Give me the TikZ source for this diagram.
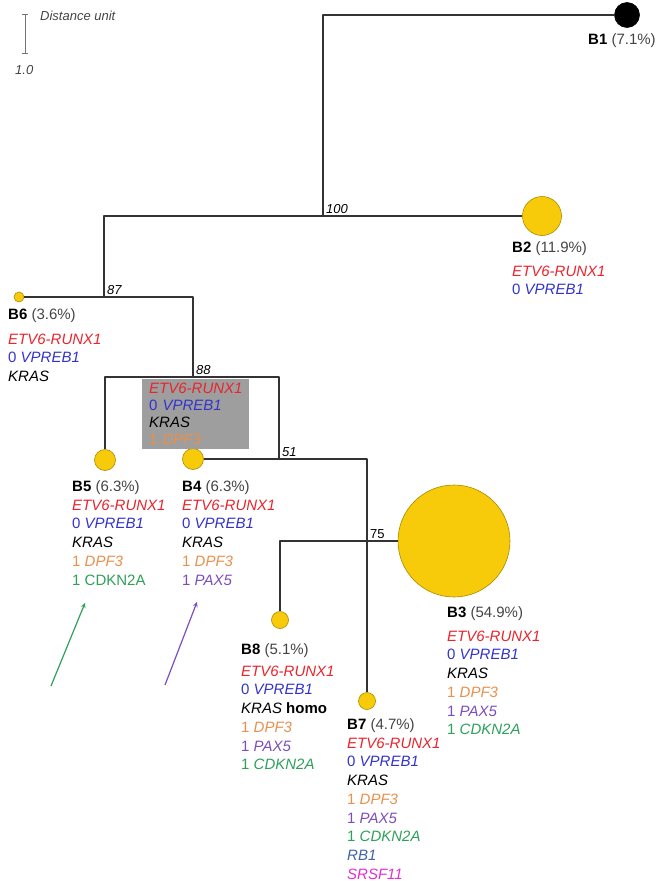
\documentclass[tikz,border=0pt]{standalone}
\usepackage{fontspec}
\setmainfont{Liberation Sans}
\definecolor{treegray}{HTML}{333333}
\definecolor{hdrgray}{HTML}{444444}
\definecolor{cloneyellow}{HTML}{F7CB0A}
\definecolor{cloneedge}{HTML}{A88A00}
\definecolor{boxgray}{HTML}{9E9E9E}
\definecolor{etvred}{HTML}{E8242C}
\definecolor{vprblue}{HTML}{3333CC}
\definecolor{dpforange}{HTML}{E8904E}
\definecolor{paxpurple}{HTML}{7C4DBD}
\definecolor{cdkgreen}{HTML}{2EA05A}
\definecolor{rbblue}{HTML}{3F62A8}
\definecolor{srsfmag}{HTML}{E030D0}
% gene lines
\newcommand{\etv}{\mbox{\textcolor{etvred}{\textit{ETV6-RUNX1}}}}
\newcommand{\vpr}{\textcolor{vprblue}{0 \textit{VPREB1}}}
\newcommand{\kras}{\textit{KRAS}}
\newcommand{\dpf}{\textcolor{dpforange}{1 \textit{DPF3}}}
\newcommand{\pax}{\textcolor{paxpurple}{1 \textit{PAX5}}}
\newcommand{\cdk}{\textcolor{cdkgreen}{1 \textit{CDKN2A}}}
\newcommand{\hdr}[2]{\textbf{#1} \textcolor{hdrgray}{(#2)}}
\tikzset{
  branch/.style={draw=treegray, line width=2pt},
  clone/.style={circle, draw=cloneedge, fill=cloneyellow, line width=0.6pt, inner sep=0pt, minimum size=#1},
  info/.style={anchor=north west, align=left, inner sep=0pt, font=\fontsize{15}{18.7}\selectfont},
  boot/.style={anchor=south west, inner sep=1pt, xshift=2pt, yshift=1.5pt, font=\fontsize{13}{13}\selectfont\itshape},
}
\begin{document}
\begin{tikzpicture}[x=1pt, y=-1pt, >=stealth, line join=round]
	\useasboundingbox (0,0) rectangle (658,881);
	
	% scale bar
	\draw[gray!90!black, line width=1pt] (22,14)--(28,14) (25,14)--(25,53) (22,53)--(28,53);
	\node[anchor=west, inner sep=0pt, text=hdrgray, font=\fontsize{13}{13}\selectfont\itshape] (dist) at (40,16) {Distance unit};
	\node[anchor=west, inner sep=0pt, text=hdrgray, font=\fontsize{13}{13}\selectfont\itshape] (unit) at (15,70) {1.0};
	
	% clones
	\node[clone=25pt, fill=black, draw=black] (B1) at (627,15) {};
	\node[clone=39pt] (B2) at (542,216) {};
	\node[clone=10pt] (B6) at (19,297) {};
	\node[clone=21pt] (B5) at (105,460) {};
	\node[clone=21pt] (B4) at (193,459) {};
	\node[clone=112pt] (B3) at (454,541) {};
	\node[clone=17pt] (B8) at (280,620) {};
	\node[clone=17pt] (B7) at (367,701) {};
	
	% branching points
	\coordinate (n100) at (323,216);
	\coordinate (n87) at (104,297);
	\coordinate (n88) at (193,377);
	\coordinate (n51) at (279,459);
	\coordinate (n75) at (367,541);
	
	\draw[branch] (n100) |- (B1);
	\draw[branch] (B2) -| (n87);
	\draw[branch] (B6) -| (n88);
	\draw[branch] (B5) |- (n88) -| (n51);
	\draw[branch] (B4) -| (B7);
	\draw[branch] (B8) |- (B3);
	
	\node[boot] (l100) at (n100) {100};
	\node[boot] (l87) at (n87) {87};
	\node[boot] (l88) at (n88) {88};
	\node[boot] (l51) at (n51) {51};
	\node[boot, font=\fontsize{13}{13}\selectfont] (l75) at (n75) {75};
	
	% shared events
	\node[anchor=north west, fill=boxgray, text width=93pt, minimum height=70pt, inner xsep=7pt, inner ysep=3pt, align=left, font=\fontsize{15}{17}\selectfont] (shared) at (142,379) {\etv\\ \vpr\\ \kras\\ \dpf};
	
	% clone labels
	\node[info] (B1lab) at (588,33.5) {\hdr{B1}{7.1\%}};
	\node[info] (B2lab) at (512,241.5) {\hdr{B2}{11.9\%}\\[5pt] \etv\\ \vpr};
	\node[info] (B6lab) at (8,308.5) {\hdr{B6}{3.6\%}\\[6pt] \etv\\ \vpr\\ \kras};
	\node[info] (B5lab) at (72,480.5) {\hdr{B5}{6.3\%}\\ \etv\\ \vpr\\ \kras\\ \dpf\\ \textcolor{cdkgreen}{1 CDKN2A}};
	\node[info] (B4lab) at (182,480.5) {\hdr{B4}{6.3\%}\\ \etv\\ \vpr\\ \kras\\ \dpf\\ \pax};
	\node[info] (B3lab) at (447,606.5) {\hdr{B3}{54.9\%}\\[5pt] \etv\\ \vpr\\ \kras\\ \dpf\\ \pax\\ \cdk};
	\node[info] (B8lab) at (241,643.5) {\hdr{B8}{5.1\%}\\[3pt] \etv\\ \vpr\\ \kras{} \textbf{homo}\\ \dpf\\ \pax\\ \cdk};
	\node[info] (B7lab) at (347,718.5) {\hdr{B7}{4.7\%}\\ \etv\\ \vpr\\ \kras\\ \dpf\\ \pax\\ \cdk\\ \textcolor{rbblue}{\textit{RB1}}\\ \textcolor{srsfmag}{\textit{SRSF11}}};
	
	% arrows
	\coordinate (g0) at (51,686); \coordinate (g1) at (85,603);
	\coordinate (p0) at (165,685); \coordinate (p1) at (197,602);
	\draw[->, cdkgreen, line width=1.2pt] (g0) -- (g1);
	\draw[->, paxpurple, line width=1.2pt] (p0) -- (p1);
\end{tikzpicture}
\end{document}
